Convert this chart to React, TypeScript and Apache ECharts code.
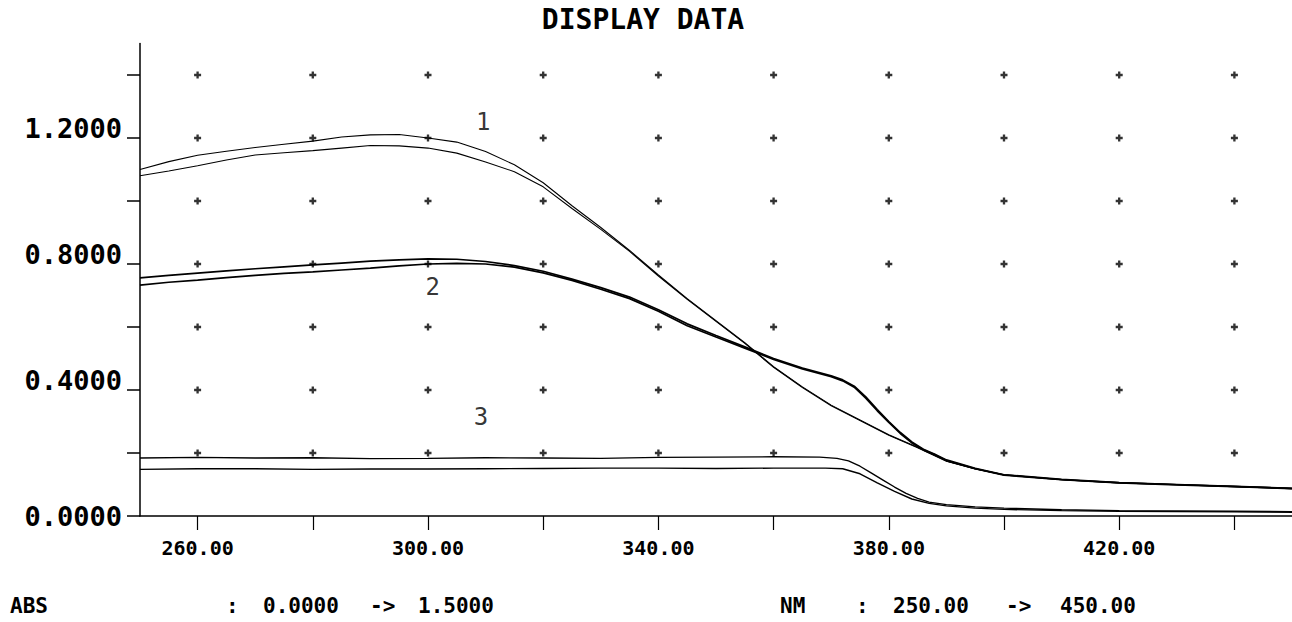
import React, { useEffect, useRef } from "react";
import * as echarts from "echarts";

const FONT = '"DejaVu Sans Mono", "Liberation Mono", monospace';

// Axis ticks / labels
const X_TICKS = [260, 280, 300, 320, 340, 360, 380, 400, 420, 440];
const X_LABELS = [260, 300, 340, 380, 420];
const Y_TICKS = [0, 0.2, 0.4, 0.6, 0.8, 1.0, 1.2, 1.4];
const Y_LABELS = [0, 0.4, 0.8, 1.2];
const DOT_ROWS = [0.2, 0.4, 0.6, 0.8, 1.0, 1.2, 1.4];

// Curve pair 1
const S1_NM = [250, 255, 260, 265, 270, 275, 280, 285, 290, 295, 300, 305, 310, 315, 320, 325, 330, 335, 340, 345, 350, 355, 360, 365, 370, 375, 380, 385, 390, 395, 400, 410, 420, 430, 440, 450];
const S1A_ABS = [1.100, 1.125, 1.145, 1.158, 1.170, 1.180, 1.190, 1.203, 1.210, 1.211, 1.200, 1.187, 1.157, 1.115, 1.058, 0.985, 0.916, 0.843, 0.765, 0.690, 0.620, 0.550, 0.474, 0.410, 0.352, 0.305, 0.258, 0.218, 0.175, 0.150, 0.131, 0.116, 0.106, 0.100, 0.094, 0.088];
const S1B_ABS = [1.080, 1.095, 1.112, 1.130, 1.146, 1.153, 1.160, 1.168, 1.176, 1.175, 1.168, 1.152, 1.124, 1.093, 1.045, 0.976, 0.910, 0.840, 0.762, 0.688, 0.618, 0.548, 0.472, 0.408, 0.350, 0.303, 0.256, 0.217, 0.174, 0.149, 0.130, 0.115, 0.105, 0.099, 0.093, 0.087];

// Curve pair 2
const S2_NM = [250, 255, 260, 265, 270, 275, 280, 285, 290, 295, 300, 305, 310, 315, 320, 325, 330, 335, 340, 345, 350, 355, 360, 365, 370, 372, 374, 376, 378, 380, 382, 384, 386, 388, 390, 395, 400, 410, 420, 430, 440, 450];
const S2A_ABS = [0.756, 0.764, 0.771, 0.778, 0.785, 0.791, 0.797, 0.803, 0.809, 0.813, 0.816, 0.815, 0.808, 0.795, 0.777, 0.752, 0.725, 0.695, 0.655, 0.610, 0.573, 0.537, 0.500, 0.470, 0.445, 0.432, 0.412, 0.378, 0.338, 0.300, 0.265, 0.235, 0.212, 0.196, 0.178, 0.151, 0.131, 0.116, 0.106, 0.100, 0.094, 0.088];
const S2B_ABS = [0.733, 0.742, 0.749, 0.757, 0.764, 0.770, 0.775, 0.781, 0.787, 0.794, 0.800, 0.802, 0.800, 0.790, 0.772, 0.748, 0.720, 0.690, 0.650, 0.604, 0.568, 0.533, 0.497, 0.467, 0.442, 0.429, 0.409, 0.374, 0.334, 0.297, 0.262, 0.232, 0.210, 0.194, 0.176, 0.150, 0.130, 0.115, 0.105, 0.099, 0.093, 0.087];

// Curve pair 3
const S3A_NM = [250, 260, 270, 280, 290, 300, 310, 320, 330, 340, 350, 360, 368, 371, 373, 375, 377, 379, 381, 383, 385, 387, 390, 395, 400, 410, 420, 430, 440, 450];
const S3A_ABS = [0.184, 0.186, 0.184, 0.185, 0.182, 0.183, 0.185, 0.184, 0.183, 0.186, 0.187, 0.188, 0.187, 0.183, 0.175, 0.158, 0.136, 0.114, 0.092, 0.072, 0.056, 0.044, 0.036, 0.029, 0.025, 0.020, 0.017, 0.016, 0.015, 0.014];
const S3B_NM = [250, 260, 270, 280, 290, 300, 310, 320, 330, 340, 350, 360, 366, 369, 372, 375, 378, 381, 384, 387, 390, 395, 400, 410, 420, 430, 440, 450];
const S3B_ABS = [0.148, 0.150, 0.150, 0.148, 0.149, 0.149, 0.150, 0.151, 0.152, 0.152, 0.151, 0.152, 0.152, 0.152, 0.150, 0.134, 0.105, 0.078, 0.054, 0.040, 0.032, 0.025, 0.021, 0.017, 0.015, 0.014, 0.013, 0.012];

// Curve number labels [nm, abs, text]
const CURVE_LABELS: [number, number, string][] = [
  [309.6, 1.25, "1"],
  [300.8, 0.727, "2"],
  [309.2, 0.314, "3"],
];

const TITLE = "DISPLAY DATA";
const FOOTER: [number, string][] = [
  [10, "ABS"],
  [226, ":"],
  [263, "0.0000"],
  [370, "->"],
  [418, "1.5000"],
  [780, "NM"],
  [856, ":"],
  [893, "250.00"],
  [1006, "->"],
  [1060, "450.00"],
];

const zip = (xs: number[], ys: number[]) => xs.map((x, i) => [x, ys[i]]);

export default function App() {
  const ref = useRef<HTMLDivElement>(null);
  useEffect(() => {
    if (!ref.current) return;
    const chart = echarts.init(ref.current, undefined, { renderer: "svg" });
    const line = (data: number[][], width: number) => ({
      type: "line",
      data,
      showSymbol: false,
      symbol: "none",
      lineStyle: { color: "#000", width },
      silent: true,
      z: 3,
    });
    const dots: number[][] = [];
    X_TICKS.forEach((x) => DOT_ROWS.forEach((y) => dots.push([x, y])));
    chart.setOption({
      animation: false,
      backgroundColor: "#fff",
      grid: { left: 140, right: -6, top: 43.5, bottom: 106, containLabel: false },
      xAxis: {
        type: "value",
        min: 250,
        max: 450,
        axisLine: { show: true, onZero: false, lineStyle: { color: "#000", width: 1.5 } },
        axisTick: { show: true, length: 14, customValues: X_TICKS, lineStyle: { color: "#000", width: 1.2 } },
        axisLabel: {
          customValues: X_LABELS,
          formatter: (v: number) => v.toFixed(2),
          margin: 22,
          color: "#000",
          fontFamily: FONT,
          fontWeight: "bold",
          fontSize: 20,
        },
        splitLine: { show: false },
      },
      yAxis: {
        type: "value",
        min: 0,
        max: 1.5,
        axisLine: { show: true, onZero: false, lineStyle: { color: "#000", width: 1.5 } },
        axisTick: { show: true, length: 13, customValues: Y_TICKS, lineStyle: { color: "#000", width: 1.5 } },
        axisLabel: {
          customValues: Y_LABELS,
          margin: 18,
          formatter: (v: number) => (v === 0 ? `{c|${v.toFixed(4)}}` : `{u|${v.toFixed(4)}}`),
          rich: {
            c: { fontFamily: FONT, fontSize: 27, fontWeight: "bold", color: "#000", lineHeight: 26 },
            u: { fontFamily: FONT, fontSize: 27, fontWeight: "bold", color: "#000", lineHeight: 26, padding: [0, 0, 20, 0] },
          },
        },
        splitLine: { show: false },
      },
      series: [
        {
          type: "scatter",
          data: dots,
          symbol: "path://M2,0H4V2H6V4H4V6H2V4H0V2H2Z",
          symbolSize: 7,
          itemStyle: { color: "#000" },
          silent: true,
          z: 2,
        },
        line(zip(S1_NM, S1A_ABS), 1.1),
        line(zip(S1_NM, S1B_ABS), 1.1),
        line(zip(S2_NM, S2A_ABS), 1.7),
        line(zip(S2_NM, S2B_ABS), 1.7),
        line(zip(S3A_NM, S3A_ABS), 1.4),
        line(zip(S3B_NM, S3B_ABS), 1.4),
        {
          type: "scatter",
          data: CURVE_LABELS.map(([x, y, t]) => ({ value: [x, y], name: t })),
          symbolSize: 0,
          silent: true,
          label: {
            show: true,
            position: "inside",
            formatter: (p: any) => p.name,
            fontFamily: FONT,
            fontSize: 24,
            color: "#000",
          },
          z: 4,
        },
      ],
      graphic: [
        {
          type: "text",
          x: 643,
          y: 19,
          style: { text: TITLE, font: `bold 28px ${FONT}`, fill: "#000", textAlign: "center", textVerticalAlign: "middle" },
        },
        ...FOOTER.map(([x, t]) => ({
          type: "text",
          x,
          y: 606,
          style: { text: t, font: `bold 21px ${FONT}`, fill: "#000", textAlign: "left", textVerticalAlign: "middle" },
        })),
      ],
    });
    return () => chart.dispose();
  }, []);
  return (
    <div
      ref={ref}
      style={{ position: "fixed", left: 0, top: 0, width: 1292, height: 622, background: "#fff" }}
    />
  );
}
